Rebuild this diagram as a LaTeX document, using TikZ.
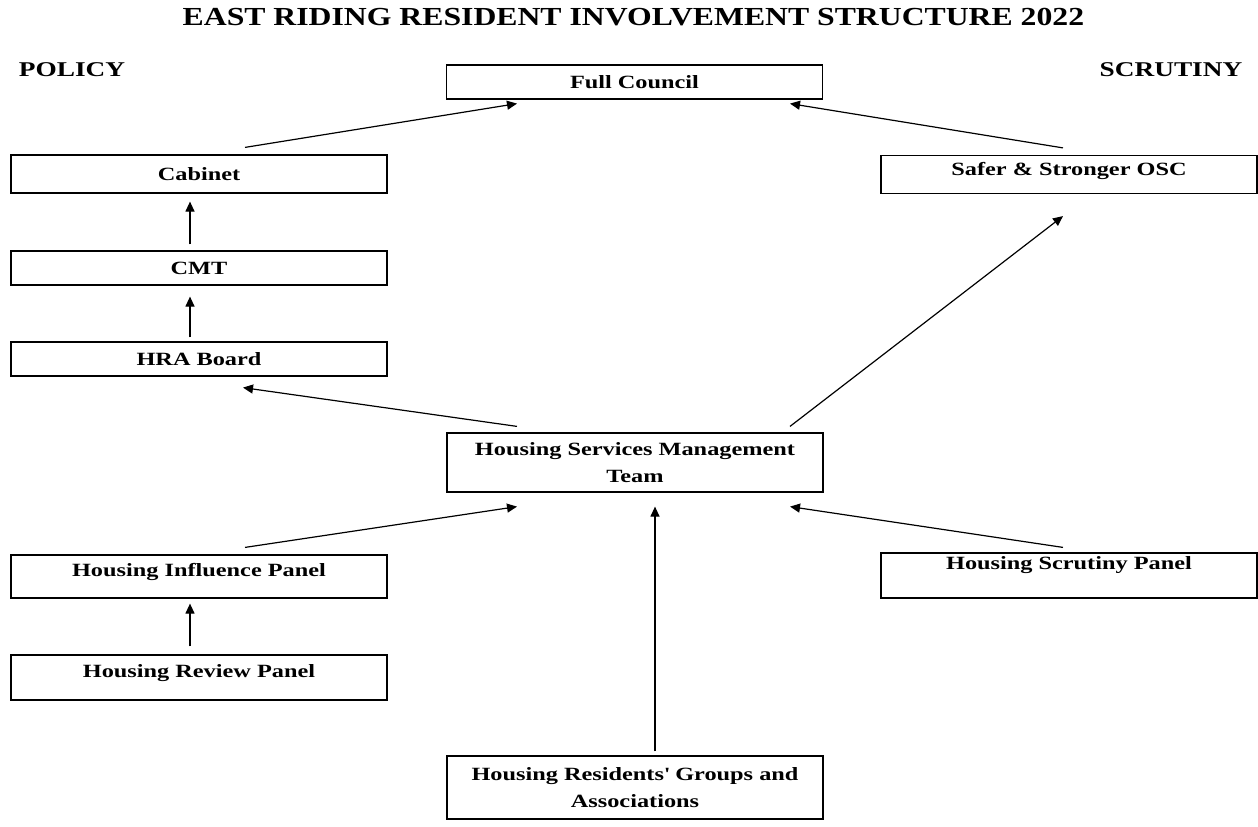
\documentclass[tikz,border=0pt]{standalone}
\usepackage{fontspec}
\setmainfont{Liberation Serif}[FakeStretch=1.3]
\newfontfamily\titlefont{Liberation Serif}[FakeStretch=1.22]
\usetikzlibrary{arrows.meta,positioning}
\tikzset{
  box/.style={draw,line width=1.2pt,minimum width=376pt,inner sep=0pt,align=center,
    font=\fontsize{18.7}{27}\selectfont\bfseries},
  lift/.style={text depth=#1},
  heading/.style={font=\fontsize{21}{24}\selectfont\bfseries},
  link/.style={-{Triangle[length=10pt,width=9pt]},line width=1.2pt},
}

\begin{document}
\begin{tikzpicture}[x=1pt,y=-1pt]
\useasboundingbox (0,0) rectangle (1258,827);
\node[font=\titlefont\fontsize{26}{30}\selectfont\bfseries] (title) at (633.5,17) {EAST RIDING RESIDENT INVOLVEMENT STRUCTURE 2022};
\node[heading] (policy) at (72,70) {POLICY};
\node[heading] (scrutiny) at (1171,70) {SCRUTINY};

% policy side
\node[box,minimum height=34pt] (council) at (634.5,82) {Full Council};
\node[box,minimum height=38pt] (cabinet) at (199,174) {Cabinet};
\node[box,minimum height=34pt] (cmt) at (199,268) {CMT};
\node[box,minimum height=34pt] (hra) at (199,359) {HRA Board};
\node[box,minimum height=59pt] (hsmt) at (635,462.5) {Housing Services Management\\Team};
\node[box,minimum height=43pt,lift=13pt] (influence) at (199,576.5) {Housing Influence Panel};
\node[box,minimum height=45pt,lift=13pt] (review) at (199,677.5) {Housing Review Panel};
\node[box,minimum height=63pt] (residents) at (635,787.5) {Housing Residents\textquotesingle\ Groups and\\Associations};

% scrutiny side
\node[box,minimum height=38pt,lift=12pt] (safer) at (1069,174.5) {Safer \& Stronger OSC};
\node[box,minimum height=45pt,lift=25pt] (scrutinypanel) at (1069,575.5) {Housing Scrutiny Panel};

\draw[link] ([xshift=46pt,yshift=7pt]cabinet.north) -- ([xshift=-117.5pt,yshift=-4pt]council.south);
\draw[link] ([xshift=-6pt,yshift=7pt]safer.north) -- ([xshift=155.5pt,yshift=-4pt]council.south);
\draw[link] ([xshift=-9pt,yshift=6pt]cmt.north) -- ([xshift=-9pt,yshift=-8pt]cabinet.south);
\draw[link] ([xshift=-9pt,yshift=4pt]hra.north) -- ([xshift=-9pt,yshift=-11pt]cmt.south);
\draw[link] ([xshift=-118pt,yshift=6pt]hsmt.north) -- ([xshift=44pt,yshift=-11pt]hra.south);
\draw[link] ([xshift=155pt,yshift=6pt]hsmt.north) -- ([xshift=-6pt,yshift=-22pt]safer.south);
\draw[link] ([xshift=46pt,yshift=7pt]influence.north) -- ([xshift=-118pt,yshift=-14pt]hsmt.south);
\draw[link] ([xshift=-6pt,yshift=5pt]scrutinypanel.north) -- ([xshift=155pt,yshift=-14pt]hsmt.south);
\draw[link] ([xshift=20pt,yshift=4pt]residents.north) -- ([xshift=20pt,yshift=-14pt]hsmt.south);
\draw[link] ([xshift=-9pt,yshift=8pt]review.north) -- ([xshift=-9pt,yshift=-5pt]influence.south);
\end{tikzpicture}
\end{document}
